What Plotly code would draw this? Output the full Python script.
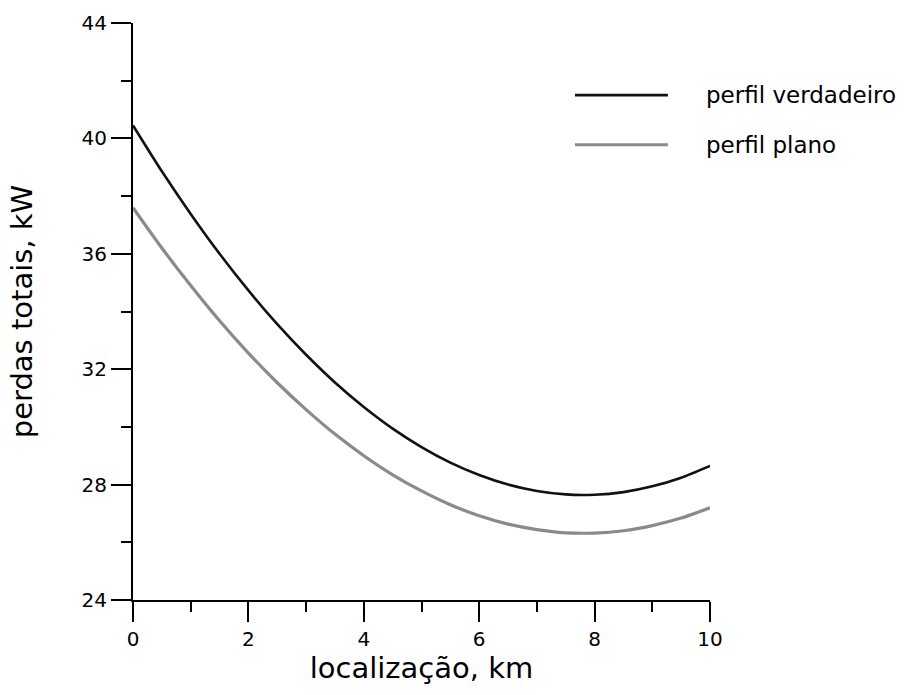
import plotly.graph_objects as go

# Location along the feeder (km)
localizacao_km = [0, 0.5, 1, 1.5, 2, 2.5, 3, 3.5, 4, 4.5, 5,
                  5.5, 6, 6.5, 7, 7.5, 8, 8.5, 9, 9.5, 10]

# Total losses (kW) for the true profile
perdas_verdadeiro = [40.45, 38.86, 37.38, 36.00, 34.73, 33.56, 32.50, 31.54,
                     30.69, 29.94, 29.30, 28.76, 28.33, 28.00, 27.78, 27.66,
                     27.65, 27.74, 27.94, 28.24, 28.65]

# Total losses (kW) for the flat profile
perdas_plano = [37.60, 36.20, 34.90, 33.68, 32.56, 31.53, 30.60, 29.75,
                29.00, 28.34, 27.78, 27.30, 26.92, 26.63, 26.44, 26.33,
                26.32, 26.40, 26.58, 26.84, 27.20]

series_names = ["perfil verdadeiro", "perfil plano"]
series_colors = ["#111111", "#8a8a8a"]
series_widths = [2.6, 3.2]

x_ticks = [0, 2, 4, 6, 8, 10]
y_ticks = [24, 28, 32, 36, 40, 44]

FONT = "DejaVu Sans"

fig = go.Figure()
for name, vals, color, width in zip(series_names,
                                    [perdas_verdadeiro, perdas_plano],
                                    series_colors, series_widths):
    fig.add_trace(go.Scatter(
        x=localizacao_km, y=vals, mode="lines", name=name,
        line=dict(color=color, width=width, shape="spline", smoothing=0.6),
        showlegend=False,
    ))

# Hand-drawn legend: long line samples with labels to their right
legend_y = [0.875, 0.789]
for name, color, width, ly in zip(series_names, series_colors,
                                  series_widths, legend_y):
    fig.add_shape(type="line", xref="paper", yref="paper",
                  x0=0.766, x1=0.927, y0=ly, y1=ly,
                  line=dict(color=color, width=width))
    fig.add_annotation(text=name, xref="paper", yref="paper",
                       x=0.99, y=ly, xanchor="left", yanchor="middle",
                       showarrow=False,
                       font=dict(family=FONT, size=23, color="black"))

axis_common = dict(
    showgrid=False, zeroline=False,
    showline=True, linecolor="black", linewidth=2,
    ticks="outside", ticklen=20, tickwidth=2, tickcolor="black",
    tickfont=dict(family=FONT, size=20, color="black"),
    mirror=False,
)

fig.update_xaxes(
    range=[0, 10], tickvals=x_ticks,
    minor=dict(ticks="outside", ticklen=10, tickwidth=2,
               tickcolor="black", dtick=1),
    title=dict(text="localização, km", standoff=6,
               font=dict(family=FONT, size=29, color="black")),
    **axis_common,
)
fig.update_yaxes(
    range=[24, 44], tickvals=y_ticks,
    minor=dict(ticks="outside", ticklen=10, tickwidth=2,
               tickcolor="black", dtick=2),
    title=dict(text="perdas totais, kW", standoff=40,
               font=dict(family=FONT, size=29, color="black")),
    **axis_common,
)

fig.update_layout(
    width=911, height=695,
    margin=dict(l=133, r=201, t=23, b=95, autoexpand=False),
    plot_bgcolor="white", paper_bgcolor="white",
    font=dict(family=FONT, color="black"),
)

fig.write_html("out.html")
